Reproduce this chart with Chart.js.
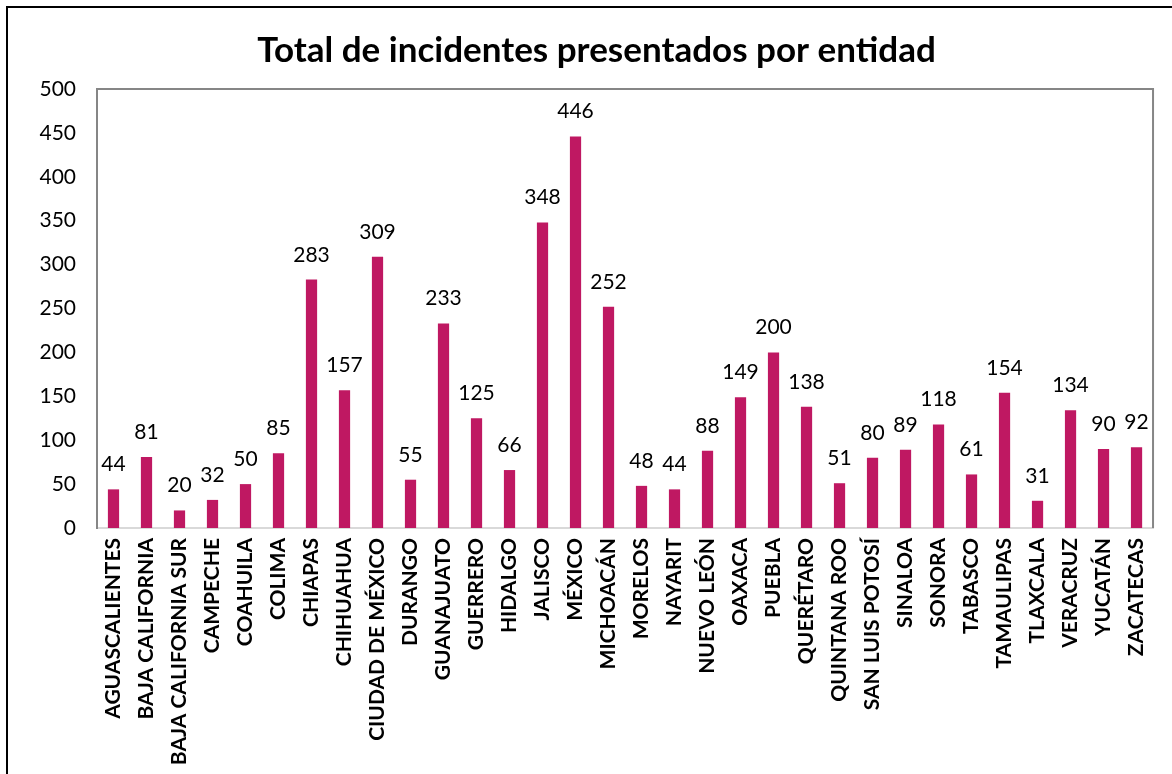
<!DOCTYPE html>
<html>
<head>
<meta charset="utf-8">
<script src="https://cdn.jsdelivr.net/npm/chart.js@4.4.0/dist/chart.umd.min.js"></script>
<style>
  html, body { margin: 0; padding: 0; background: #fff; }
  #wrap { width: 1172px; height: 774px; position: relative; }
</style>
</head>
<body>
<div id="wrap"><canvas id="chart"></canvas></div>
<script>
const estados = ["AGUASCALIENTES", "BAJA CALIFORNIA", "BAJA CALIFORNIA SUR", "CAMPECHE", "COAHUILA", "COLIMA",
  "CHIAPAS", "CHIHUAHUA", "CIUDAD DE MÉXICO", "DURANGO", "GUANAJUATO", "GUERRERO", "HIDALGO", "JALISCO",
  "MÉXICO", "MICHOACÁN", "MORELOS", "NAYARIT", "NUEVO LEÓN", "OAXACA", "PUEBLA", "QUERÉTARO",
  "QUINTANA ROO", "SAN LUIS POTOSÍ", "SINALOA", "SONORA", "TABASCO", "TAMAULIPAS", "TLAXCALA",
  "VERACRUZ", "YUCATÁN", "ZACATECAS"];
const incidentes = [44, 81, 20, 32, 50, 85, 283, 157, 309, 55, 233, 125, 66, 348, 446, 252, 48, 44, 88,
  149, 200, 138, 51, 80, 89, 118, 61, 154, 31, 134, 90, 92];
const yTicks = [0, 50, 100, 150, 200, 250, 300, 350, 400, 450, 500];

const FONT = "Lato, 'Open Sans', sans-serif";
const BAR = "#BF1862";

/* frame + plot box + value labels */
const extras = {
  id: "extras",
  beforeDraw(chart){
    const c = chart.ctx;
    c.save();
    c.strokeStyle = "#000";
    c.lineWidth = 2;
    c.beginPath();
    c.moveTo(7, 774); c.lineTo(7, 7); c.lineTo(1172, 7);
    c.stroke();
    c.restore();
  },
  afterDraw(chart){
    const c = chart.ctx, a = chart.chartArea;
    c.save();
    c.strokeStyle = "#868686";
    c.lineWidth = 2;
    c.beginPath();
    c.moveTo(a.left, a.top); c.lineTo(a.right, a.top); c.lineTo(a.right, a.bottom);
    c.stroke();
    c.restore();
  },
  afterDatasetsDraw(chart){
    const c = chart.ctx;
    const meta = chart.getDatasetMeta(0);
    c.save();
    c.fillStyle = "#000";
    c.font = "21px " + FONT;
    c.textAlign = "center";
    c.textBaseline = "alphabetic";
    meta.data.forEach((bar, i) => {
      c.fillText(incidentes[i], bar.x, bar.y - 18);
    });
    c.restore();
  }
};

new Chart(document.getElementById("chart"), {
  type: "bar",
  data: {
    labels: estados,
    datasets: [{
      data: incidentes,
      backgroundColor: BAR,
      borderWidth: 0,
      categoryPercentage: 1,
      barPercentage: 0.34
    }]
  },
  options: {
    responsive: true,
    maintainAspectRatio: false,
    animation: false,
    layout: { padding: { top: 0, right: 17, left: 38, bottom: 0 } },
    plugins: {
      legend: { display: false },
      tooltip: { enabled: false },
      title: {
        display: true,
        text: "Total de incidentes presentados por entidad",
        color: "#000",
        font: { family: FONT, size: 35, weight: "bold" },
        padding: { top: 30, bottom: 17 }
      }
    },
    scales: {
      x: {
        grid: { display: false, drawTicks: false },
        border: { display: true, color: "#D9D9D9", width: 2 },
        ticks: {
          color: "#000",
          font: { family: FONT, size: 21, weight: "bold" },
          minRotation: 90, maxRotation: 90,
          autoSkip: false,
          padding: 10
        },
        afterFit(s){ s.height = 246; }
      },
      y: {
        min: 0, max: 500,
        afterBuildTicks(s){ s.ticks = yTicks.map(v => ({ value: v })); },
        grid: { display: false, drawTicks: false },
        border: { display: true, color: "#868686", width: 2 },
        ticks: {
          color: "#000",
          font: { family: FONT, size: 21 },
          padding: 21
        },
        afterFit(s){ s.width = 59; }
      }
    }
  },
  plugins: [extras]
});
</script>
</body>
</html>
